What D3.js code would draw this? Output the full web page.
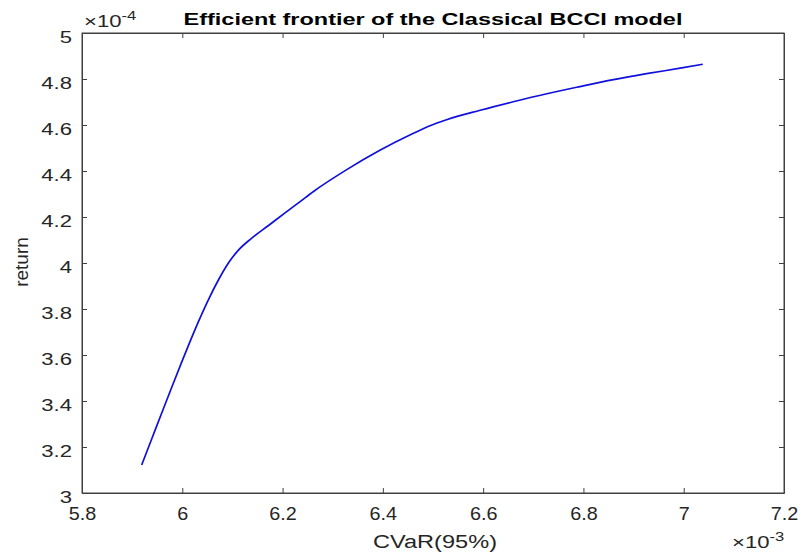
<!DOCTYPE html>
<html>
  <head>
    <meta charset="utf-8">
    <title>Efficient frontier</title>
    <script src="https://d3js.org/d3.v7.min.js"></script>
    <style>
      body { margin: 0; background: #fff; }
      text { font-family: "Liberation Sans", Arial, sans-serif; fill: #262626; }
    </style>
  </head>
  <body>
    <div id="chart"></div>

    <script type="text/javascript">
      // values, x in units of 1e-3, y in units of 1e-4
      var cvar = [5.919, 5.939, 5.959, 5.979, 5.999, 6.015, 6.032, 6.052, 6.072, 6.092,
                  6.112, 6.138, 6.172, 6.205, 6.235, 6.261, 6.328, 6.394, 6.461, 6.494,
                  6.527, 6.594, 6.660, 6.727, 6.793, 6.860, 6.926, 6.993, 7.038];
      var ret  = [3.122, 3.235, 3.348, 3.460, 3.570, 3.656, 3.744, 3.840, 3.926, 4.000,
                  4.056, 4.107, 4.163, 4.218, 4.267, 4.310, 4.406, 4.490, 4.564, 4.597,
                  4.623, 4.664, 4.701, 4.736, 4.767, 4.797, 4.823, 4.847, 4.864];

      var xTicks = [5.8, 6, 6.2, 6.4, 6.6, 6.8, 7, 7.2];
      var yTicks = [3, 3.2, 3.4, 3.6, 3.8, 4, 4.2, 4.4, 4.6, 4.8, 5];

      var width = 802,
          height = 554;

      var margin = {top: 33, right: 18, bottom: 61, left: 82};
      var w = width - margin.left - margin.right,
          h = height - margin.top - margin.bottom;

      var svg = d3.select('#chart').append('svg')
          .attr('width', width)
          .attr('height', height);

      var g = svg.append('g')
          .attr('transform', 'translate(' + margin.left + ',' + margin.top + ')');

      var x = d3.scaleLinear().domain([5.8, 7.2]).range([0, w]);
      var y = d3.scaleLinear().domain([3, 5]).range([h, 0]);

      // the picture is stretched sideways, so text is too
      var sx = 1.38;

      // box
      g.append('rect')
          .attr('width', w).attr('height', h)
          .attr('fill', 'none')
          .attr('stroke', '#404040')
          .attr('stroke-width', 1);

      var xAxis = g.append('g')
          .attr('transform', 'translate(0,' + h + ')')
          .call(d3.axisBottom(x).tickValues(xTicks).tickSizeInner(-5).tickSizeOuter(0)
                .tickPadding(14).tickFormat(d3.format('~g')));
      xAxis.selectAll('text')
          .style('font-size', '18px')
          .attr('transform', 'scale(1.1,1)');

      g.append('g')
          .call(d3.axisTop(x).tickValues(xTicks).tickSizeInner(-5).tickSizeOuter(0).tickFormat(''));

      var yAxis = g.append('g')
          .call(d3.axisLeft(y).tickValues(yTicks).tickSizeInner(-5).tickSizeOuter(0)
                .tickPadding(0).tickFormat(d3.format('~g')));
      yAxis.selectAll('text')
          .style('font-size', '16px')
          .attr('x', 0)
          .attr('transform', 'translate(-10,4) scale(' + sx + ',1)');

      g.append('g')
          .attr('transform', 'translate(' + w + ',0)')
          .call(d3.axisRight(y).tickValues(yTicks).tickSizeInner(-5).tickSizeOuter(0).tickFormat(''));

      g.selectAll('.domain').attr('stroke', '#404040');
      g.selectAll('.tick line').attr('stroke', '#404040');

      // frontier
      var pts = cvar.map(function(d, i) { return [d, ret[i]]; });
      var line = d3.line()
          .x(function(d) { return x(d[0]); })
          .y(function(d) { return y(d[1]); })
          .curve(d3.curveMonotoneX);

      g.append('path')
          .datum(pts)
          .attr('d', line)
          .attr('fill', 'none')
          .attr('stroke', '#1010dd')
          .attr('stroke-width', 1.7);

      // title
      svg.append('text')
          .attr('transform', 'translate(433,25) scale(' + sx + ',1)')
          .attr('text-anchor', 'middle')
          .style('font-size', '17px')
          .style('font-weight', 'bold')
          .style('fill', '#000')
          .text('Efficient frontier of the Classical BCCI model');

      // axis labels
      svg.append('text')
          .attr('transform', 'translate(435,548) scale(1.31,1)')
          .attr('text-anchor', 'middle')
          .style('font-size', '18px')
          .text('CVaR(95%)');

      svg.append('text')
          .attr('transform', 'translate(28,262) rotate(-90)')
          .attr('text-anchor', 'middle')
          .style('font-size', '19px')
          .text('return');

      // exponent labels
      function exponent(px, py, e) {
        var t = svg.append('text')
            .attr('transform', 'translate(' + px + ',' + py + ') scale(' + sx + ',1)')
            .style('font-size', '16px');
        t.append('tspan').text('\u00d710');
        t.append('tspan').attr('dy', -7).style('font-size', '12px').text(e);
      }
      exponent(84, 27, '-4');
      exponent(732, 548, '-3');
    </script>
  </body>
</html>
